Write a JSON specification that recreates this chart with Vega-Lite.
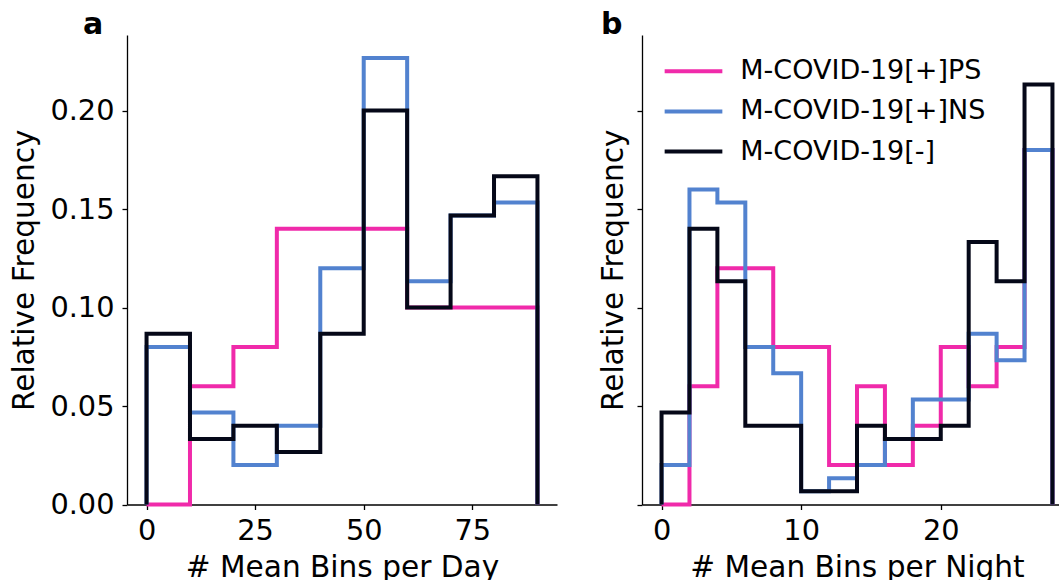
{
  "$schema": "https://vega.github.io/schema/vega-lite/v6.json",
  "padding": {"left": 9, "top": 10, "right": -13, "bottom": 0},
  "background": "white",
  "bounds": "flush",
  "spacing": 85,
  "config": {
    "font": "DejaVu Sans",
    "view": {"stroke": null},
    "axis": {
      "domainColor": "black", "domainWidth": 1.3, "tickColor": "black", "tickWidth": 1.3, "tickSize": 5,
      "labelFontSize": 28.8, "titleFontSize": 29.6, "labelColor": "black", "titleColor": "black",
      "titleFontWeight": "normal", "grid": false, "labelFont": "DejaVu Sans", "titleFont": "DejaVu Sans"
    },
    "legend": {"labelFont": "DejaVu Sans"}
  },
  "datasets": {
    "day": [
      {"s": "M-COVID-19[+]PS", "o": 0, "x": 0, "y": 0},
      {"s": "M-COVID-19[+]PS", "o": 1, "x": 0, "y": 0},
      {"s": "M-COVID-19[+]PS", "o": 2, "x": 10, "y": 0.06},
      {"s": "M-COVID-19[+]PS", "o": 3, "x": 20, "y": 0.08},
      {"s": "M-COVID-19[+]PS", "o": 4, "x": 30, "y": 0.14},
      {"s": "M-COVID-19[+]PS", "o": 5, "x": 40, "y": 0.14},
      {"s": "M-COVID-19[+]PS", "o": 6, "x": 50, "y": 0.14},
      {"s": "M-COVID-19[+]PS", "o": 7, "x": 60, "y": 0.10},
      {"s": "M-COVID-19[+]PS", "o": 8, "x": 70, "y": 0.10},
      {"s": "M-COVID-19[+]PS", "o": 9, "x": 80, "y": 0.10},
      {"s": "M-COVID-19[+]PS", "o": 10, "x": 90, "y": 0.10},
      {"s": "M-COVID-19[+]PS", "o": 11, "x": 90, "y": 0},
      {"s": "M-COVID-19[+]NS", "o": 0, "x": 0, "y": 0},
      {"s": "M-COVID-19[+]NS", "o": 1, "x": 0, "y": 0.08},
      {"s": "M-COVID-19[+]NS", "o": 2, "x": 10, "y": 0.0467},
      {"s": "M-COVID-19[+]NS", "o": 3, "x": 20, "y": 0.02},
      {"s": "M-COVID-19[+]NS", "o": 4, "x": 30, "y": 0.04},
      {"s": "M-COVID-19[+]NS", "o": 5, "x": 40, "y": 0.12},
      {"s": "M-COVID-19[+]NS", "o": 6, "x": 50, "y": 0.2267},
      {"s": "M-COVID-19[+]NS", "o": 7, "x": 60, "y": 0.1133},
      {"s": "M-COVID-19[+]NS", "o": 8, "x": 70, "y": 0.1467},
      {"s": "M-COVID-19[+]NS", "o": 9, "x": 80, "y": 0.1533},
      {"s": "M-COVID-19[+]NS", "o": 10, "x": 90, "y": 0.1533},
      {"s": "M-COVID-19[+]NS", "o": 11, "x": 90, "y": 0},
      {"s": "M-COVID-19[-]", "o": 0, "x": 0, "y": 0},
      {"s": "M-COVID-19[-]", "o": 1, "x": 0, "y": 0.0867},
      {"s": "M-COVID-19[-]", "o": 2, "x": 10, "y": 0.0333},
      {"s": "M-COVID-19[-]", "o": 3, "x": 20, "y": 0.04},
      {"s": "M-COVID-19[-]", "o": 4, "x": 30, "y": 0.0267},
      {"s": "M-COVID-19[-]", "o": 5, "x": 40, "y": 0.0867},
      {"s": "M-COVID-19[-]", "o": 6, "x": 50, "y": 0.20},
      {"s": "M-COVID-19[-]", "o": 7, "x": 60, "y": 0.10},
      {"s": "M-COVID-19[-]", "o": 8, "x": 70, "y": 0.1467},
      {"s": "M-COVID-19[-]", "o": 9, "x": 80, "y": 0.1667},
      {"s": "M-COVID-19[-]", "o": 10, "x": 90, "y": 0.1667},
      {"s": "M-COVID-19[-]", "o": 11, "x": 90, "y": 0}
    ],
    "night": [
      {"s": "M-COVID-19[+]PS", "o": 0, "x": 0, "y": 0},
      {"s": "M-COVID-19[+]PS", "o": 1, "x": 0, "y": 0},
      {"s": "M-COVID-19[+]PS", "o": 2, "x": 2, "y": 0.06},
      {"s": "M-COVID-19[+]PS", "o": 3, "x": 4, "y": 0.12},
      {"s": "M-COVID-19[+]PS", "o": 4, "x": 6, "y": 0.12},
      {"s": "M-COVID-19[+]PS", "o": 5, "x": 8, "y": 0.08},
      {"s": "M-COVID-19[+]PS", "o": 6, "x": 10, "y": 0.08},
      {"s": "M-COVID-19[+]PS", "o": 7, "x": 12, "y": 0.02},
      {"s": "M-COVID-19[+]PS", "o": 8, "x": 14, "y": 0.06},
      {"s": "M-COVID-19[+]PS", "o": 9, "x": 16, "y": 0.02},
      {"s": "M-COVID-19[+]PS", "o": 10, "x": 18, "y": 0.04},
      {"s": "M-COVID-19[+]PS", "o": 11, "x": 20, "y": 0.08},
      {"s": "M-COVID-19[+]PS", "o": 12, "x": 22, "y": 0.06},
      {"s": "M-COVID-19[+]PS", "o": 13, "x": 24, "y": 0.08},
      {"s": "M-COVID-19[+]PS", "o": 14, "x": 26, "y": 0.18},
      {"s": "M-COVID-19[+]PS", "o": 15, "x": 28, "y": 0.18},
      {"s": "M-COVID-19[+]PS", "o": 16, "x": 28, "y": 0},
      {"s": "M-COVID-19[+]NS", "o": 0, "x": 0, "y": 0},
      {"s": "M-COVID-19[+]NS", "o": 1, "x": 0, "y": 0.02},
      {"s": "M-COVID-19[+]NS", "o": 2, "x": 2, "y": 0.16},
      {"s": "M-COVID-19[+]NS", "o": 3, "x": 4, "y": 0.1533},
      {"s": "M-COVID-19[+]NS", "o": 4, "x": 6, "y": 0.08},
      {"s": "M-COVID-19[+]NS", "o": 5, "x": 8, "y": 0.0667},
      {"s": "M-COVID-19[+]NS", "o": 6, "x": 10, "y": 0.0067},
      {"s": "M-COVID-19[+]NS", "o": 7, "x": 12, "y": 0.0133},
      {"s": "M-COVID-19[+]NS", "o": 8, "x": 14, "y": 0.02},
      {"s": "M-COVID-19[+]NS", "o": 9, "x": 16, "y": 0.0333},
      {"s": "M-COVID-19[+]NS", "o": 10, "x": 18, "y": 0.0533},
      {"s": "M-COVID-19[+]NS", "o": 11, "x": 20, "y": 0.0533},
      {"s": "M-COVID-19[+]NS", "o": 12, "x": 22, "y": 0.0867},
      {"s": "M-COVID-19[+]NS", "o": 13, "x": 24, "y": 0.0733},
      {"s": "M-COVID-19[+]NS", "o": 14, "x": 26, "y": 0.18},
      {"s": "M-COVID-19[+]NS", "o": 15, "x": 28, "y": 0.18},
      {"s": "M-COVID-19[+]NS", "o": 16, "x": 28, "y": 0},
      {"s": "M-COVID-19[-]", "o": 0, "x": 0, "y": 0},
      {"s": "M-COVID-19[-]", "o": 1, "x": 0, "y": 0.0467},
      {"s": "M-COVID-19[-]", "o": 2, "x": 2, "y": 0.14},
      {"s": "M-COVID-19[-]", "o": 3, "x": 4, "y": 0.1133},
      {"s": "M-COVID-19[-]", "o": 4, "x": 6, "y": 0.04},
      {"s": "M-COVID-19[-]", "o": 5, "x": 8, "y": 0.04},
      {"s": "M-COVID-19[-]", "o": 6, "x": 10, "y": 0.0067},
      {"s": "M-COVID-19[-]", "o": 7, "x": 12, "y": 0.0067},
      {"s": "M-COVID-19[-]", "o": 8, "x": 14, "y": 0.04},
      {"s": "M-COVID-19[-]", "o": 9, "x": 16, "y": 0.0333},
      {"s": "M-COVID-19[-]", "o": 10, "x": 18, "y": 0.0333},
      {"s": "M-COVID-19[-]", "o": 11, "x": 20, "y": 0.04},
      {"s": "M-COVID-19[-]", "o": 12, "x": 22, "y": 0.1333},
      {"s": "M-COVID-19[-]", "o": 13, "x": 24, "y": 0.1133},
      {"s": "M-COVID-19[-]", "o": 14, "x": 26, "y": 0.2133},
      {"s": "M-COVID-19[-]", "o": 15, "x": 28, "y": 0.2133},
      {"s": "M-COVID-19[-]", "o": 16, "x": 28, "y": 0}
    ]
  },
  "resolve": {"legend": {"color": "independent"}},
  "hconcat": [
    {
      "width": 430,
      "height": 469.5,
      "title": {"text": "a", "anchor": "start", "frame": "group", "fontSize": 30, "fontWeight": "bold", "font": "DejaVu Sans", "color": "black", "dx": -44, "offset": -29, "baseline": "alphabetic"},
      "data": {"name": "day"},
      "mark": {"type": "line", "interpolate": "step-after", "strokeWidth": 4, "strokeJoin": "miter", "strokeCap": "butt"},
      "encoding": {
        "x": {"field": "x", "type": "quantitative", "scale": {"domain": [-4.5, 94.5], "nice": false, "zero": false},
              "axis": {"values": [0, 25, 50, 75], "title": "# Mean Bins per Day", "labelPadding": 6.5, "titlePadding": 9}},
        "y": {"field": "y", "type": "quantitative", "scale": {"domain": [0, 0.2384], "nice": false},
              "axis": {"values": [0, 0.05, 0.1, 0.15, 0.2], "format": ".2f", "title": "Relative Frequency", "labelPadding": 8, "titlePadding": 10}},
        "color": {"field": "s", "type": "nominal", "legend": null,
                  "scale": {"domain": ["M-COVID-19[+]PS", "M-COVID-19[+]NS", "M-COVID-19[-]"], "range": ["#f02aaa", "#5282cf", "#050818"]}},
        "order": {"field": "o", "type": "quantitative"}
      }
    },
    {
      "width": 430,
      "height": 469.5,
      "title": {"text": "b", "anchor": "start", "frame": "group", "fontSize": 30, "fontWeight": "bold", "font": "DejaVu Sans", "color": "black", "dx": -41, "offset": -29, "baseline": "alphabetic"},
      "data": {"name": "night"},
      "mark": {"type": "line", "interpolate": "step-after", "strokeWidth": 4, "strokeJoin": "miter", "strokeCap": "butt"},
      "encoding": {
        "x": {"field": "x", "type": "quantitative", "scale": {"domain": [-1.4, 29.4], "nice": false, "zero": false},
              "axis": {"values": [0, 10, 20], "title": "# Mean Bins per Night", "labelPadding": 6.5, "titlePadding": 9}},
        "y": {"field": "y", "type": "quantitative", "scale": {"domain": [0, 0.2384], "nice": false},
              "axis": {"values": [0, 0.05, 0.1, 0.15, 0.2], "labels": false, "title": "Relative Frequency", "titlePadding": 8}},
        "color": {"field": "s", "type": "nominal",
                  "scale": {"domain": ["M-COVID-19[+]PS", "M-COVID-19[+]NS", "M-COVID-19[-]"], "range": ["#f02aaa", "#5282cf", "#050818"]},
                  "legend": {"title": null, "orient": "none", "legendX": 35, "legendY": 19.7, "padding": 0, "symbolType": "M-2,0H2", "symbolSize": 832,
                             "symbolStrokeWidth": 4, "labelFontSize": 27, "labelColor": "black", "labelOffset": 30.3, "rowPadding": 10.2, "labelLimit": 400}},
        "order": {"field": "o", "type": "quantitative"}
      }
    }
  ]
}
